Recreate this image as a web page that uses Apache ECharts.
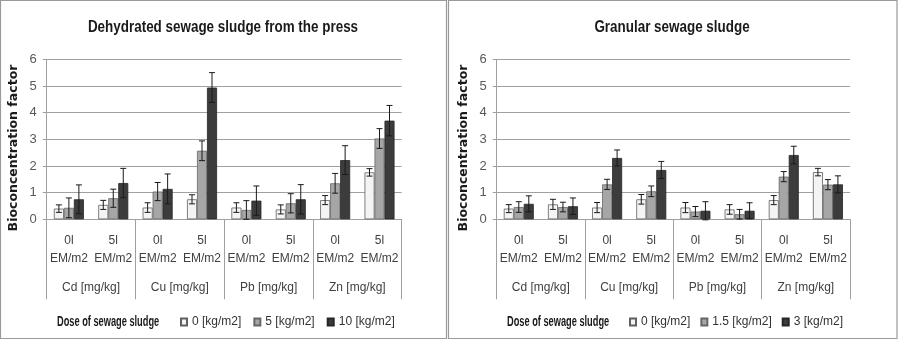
<!DOCTYPE html>
<html style="height: 100%">
<head>
    <meta charset="UTF-8">
    <title>Bioconcentration factor</title>
    <script src="https://cdn.jsdelivr.net/npm/echarts/dist/echarts.min.js"></script>
</head>
<body style="height: 100%; margin: 0; background: #fff">
    <div id="main" style="width: 899px; height: 340px"></div>
    <script type="text/javascript">
        // categories
        var metals = ['Cd [mg/kg]', 'Cu [mg/kg]', 'Pb [mg/kg]', 'Zn [mg/kg]'];
        var emDoses = ['0l\nEM/m2', '5l\nEM/m2'];
        var pressNames = ['0 [kg/m2]', '5 [kg/m2]', '10 [kg/m2]'];
        var granNames = ['0 [kg/m2]', '1.5 [kg/m2]', '3 [kg/m2]'];

        // dehydrated sludge from the press
        var press0 = [0.40, 0.54, 0.44, 0.75, 0.44, 0.37, 0.72, 1.76];
        var press5 = [0.43, 0.79, 1.04, 2.57, 0.35, 0.60, 1.35, 3.03];
        var press10 = [0.75, 1.36, 1.14, 4.94, 0.70, 0.75, 2.22, 3.70];
        var press0Err = [0.14, 0.17, 0.18, 0.17, 0.18, 0.17, 0.17, 0.14];
        var press5Err = [0.37, 0.34, 0.34, 0.37, 0.35, 0.36, 0.37, 0.37];
        var press10Err = [0.54, 0.55, 0.56, 0.56, 0.55, 0.55, 0.54, 0.57];

        // granular sludge
        var gran0 = [0.40, 0.56, 0.44, 0.75, 0.44, 0.37, 0.72, 1.77];
        var gran15 = [0.46, 0.46, 1.31, 1.05, 0.29, 0.19, 1.60, 1.30];
        var gran3 = [0.58, 0.49, 2.30, 1.85, 0.32, 0.32, 2.41, 1.31];
        var gran0Err = [0.15, 0.19, 0.19, 0.18, 0.19, 0.18, 0.17, 0.14];
        var gran15Err = [0.20, 0.18, 0.19, 0.20, 0.19, 0.18, 0.19, 0.19];
        var gran3Err = [0.30, 0.31, 0.30, 0.32, 0.34, 0.30, 0.33, 0.32];

        var yTicks = [0, 6, 1]; // min, max, interval

        var subCats = [];
        metals.forEach(function () { emDoses.forEach(function (d) { subCats.push(d); }); });

        var sans = '"Liberation Sans", Arial, sans-serif';
        var lineGray = '#a0a0a0';
        var barStyles = [
            { color: '#f4f4f4', borderColor: '#606060', borderWidth: 0.8 },
            { color: '#a6a6a6', borderColor: '#666666', borderWidth: 0.8 },
            { color: '#3c3c3c', borderColor: '#262626', borderWidth: 0.8 }
        ];
        var barW = 10;
        var offsets = [-barW, 0, barW];

        var myChart = echarts.init(document.getElementById('main'));

        var grids = [
            { left: 46.7, right: 497.3, top: 59.3, height: 160 },
            { left: 496.7, right: 49, top: 59.3, height: 160 }
        ];

        function subAxis(gi) {
            return {
                type: 'category', gridIndex: gi, data: subCats, position: 'bottom',
                axisLine: { lineStyle: { color: lineGray } },
                axisTick: { show: false },
                axisLabel: { interval: 0, margin: 12, lineHeight: 18, fontSize: 12, color: '#404040', fontFamily: sans }
            };
        }
        function groupAxis(gi) {
            return {
                type: 'category', gridIndex: gi, data: metals, position: 'bottom',
                axisLine: { show: false },
                axisTick: { show: true, interval: 0, length: 80, lineStyle: { color: lineGray } },
                axisLabel: { interval: 0, margin: 62, fontSize: 12, color: '#404040', fontFamily: sans }
            };
        }
        function valAxis(gi) {
            return {
                type: 'value', gridIndex: gi, min: yTicks[0], max: yTicks[1], interval: yTicks[2],
                axisLine: { show: true, lineStyle: { color: lineGray } },
                axisTick: { show: true, length: 4, lineStyle: { color: lineGray } },
                splitLine: { lineStyle: { color: lineGray } },
                axisLabel: { margin: 10, fontSize: 13, color: '#595959', fontFamily: sans }
            };
        }

        function errSeries(name, gi, k, vals, errs) {
            var data = vals.map(function (v, i) { return [i, v - errs[i], v + errs[i]]; });
            return {
                type: 'custom', name: name + ' err', xAxisIndex: gi * 2, yAxisIndex: gi,
                z: 5, silent: true, data: data,
                renderItem: function (params, api) {
                    var x = api.coord([api.value(0), 0])[0] + offsets[k];
                    var lo = api.coord([api.value(0), api.value(1)])[1];
                    var hi = api.coord([api.value(0), api.value(2)])[1];
                    var st = { stroke: '#1a1a1a', lineWidth: 1 };
                    return {
                        type: 'group', children: [
                            { type: 'line', shape: { x1: x, y1: lo, x2: x, y2: hi }, style: st },
                            { type: 'line', shape: { x1: x - 3, y1: lo, x2: x + 3, y2: lo }, style: st },
                            { type: 'line', shape: { x1: x - 3, y1: hi, x2: x + 3, y2: hi }, style: st }
                        ]
                    };
                }
            };
        }

        function barSeries(name, gi, k, vals) {
            return {
                type: 'bar', name: name, xAxisIndex: gi * 2, yAxisIndex: gi,
                data: vals, barWidth: barW, barGap: '0%', itemStyle: barStyles[k]
            };
        }

        var series = [];
        [press0, press5, press10].forEach(function (v, k) { series.push(barSeries(pressNames[k], 0, k, v)); });
        [gran0, gran15, gran3].forEach(function (v, k) { series.push(barSeries(granNames[k], 1, k, v)); });
        [[press0, press0Err], [press5, press5Err], [press10, press10Err]].forEach(function (p, k) {
            series.push(errSeries(pressNames[k], 0, k, p[0], p[1]));
        });
        [[gran0, gran0Err], [gran15, gran15Err], [gran3, gran3Err]].forEach(function (p, k) {
            series.push(errSeries(granNames[k], 1, k, p[0], p[1]));
        });

        function legendFor(names, left, gap) {
            return {
                data: names, left: left, top: 316, icon: 'rect', itemWidth: 6, itemHeight: 7, itemGap: gap,
                selectedMode: false, padding: 0,
                textStyle: { fontSize: 12, color: '#333', fontFamily: sans }
            };
        }

        function sideText(x, y, text) {
            return {
                type: 'text', x: x, y: y, rotation: Math.PI / 2,
                style: { text: text, align: 'center', verticalAlign: 'middle', fill: '#1a1a1a',
                    font: 'bold 12.5px "DejaVu Sans", sans-serif' }
            };
        }
        function doseText(x) {
            return {
                type: 'text', x: x, y: 322, scaleX: 0.66,
                style: { text: 'Dose of sewage sludge', align: 'left', verticalAlign: 'middle', fill: '#1a1a1a',
                    font: 'bold 14px ' + sans }
            };
        }
        function titleText(x, text) {
            return {
                type: 'text', x: x, y: 27, scaleX: 0.79,
                style: { text: text, align: 'center', verticalAlign: 'middle', fill: '#1a1a1a',
                    font: 'bold 17px ' + sans }
            };
        }

        var option = {
            animation: false,
            grid: grids,
            xAxis: [subAxis(0), groupAxis(0), subAxis(1), groupAxis(1)],
            yAxis: [valAxis(0), valAxis(1)],
            legend: [legendFor(pressNames, 180, 12), legendFor(granNames, 629, 10)],
            graphic: [
                { type: 'rect', shape: { x: 0.5, y: 0.5, width: 446, height: 338 }, style: { fill: 'none', stroke: '#9a9a9a', lineWidth: 1.2 } },
                { type: 'rect', shape: { x: 448.5, y: 0.5, width: 448.5, height: 338 }, style: { fill: 'none', stroke: '#9a9a9a', lineWidth: 1.2 } },
                titleText(223, 'Dehydrated sewage sludge from the press'),
                titleText(672, 'Granular sewage sludge'),
                sideText(14, 148, 'Bioconcentration factor'),
                sideText(464, 148, 'Bioconcentration factor'),
                doseText(57),
                doseText(507)
            ],
            series: series
        };

        myChart.setOption(option);
    </script>
</body>
</html>
